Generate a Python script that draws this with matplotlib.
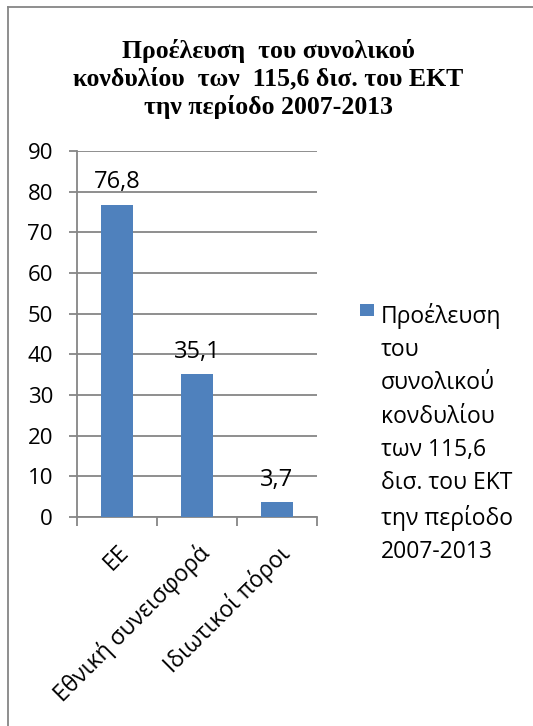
import matplotlib
matplotlib.use("Agg")
import matplotlib.pyplot as plt
from matplotlib.patches import Rectangle
from matplotlib.legend_handler import HandlerPatch
from matplotlib.lines import Line2D

categories = ["ΕΕ", "Εθνική συνεισφορά", "Ιδιωτικοί πόροι"]
values = [76.8, 35.1, 3.7]
value_labels = ["76,8", "35,1", "3,7"]
series_name = "Προέλευση\nτου\nσυνολικού\nκονδυλίου\nτων 115,6\nδισ. του ΕΚΤ\nτην περίοδο\n2007-2013"
title = "Προέλευση  του συνολικού\nκονδυλίου  των  115,6 δισ. του ΕΚΤ\nτην περίοδο 2007-2013"
yticks = [0, 10, 20, 30, 40, 50, 60, 70, 80, 90]

BAR = "#4F81BD"
GRID = "#868686"
SANS = ["Open Sans", "DejaVu Sans"]

fig = plt.figure(figsize=(5.33, 7.26), dpi=100)
ax = fig.add_axes([77/533, 1-517/726, 240/533, 366/726])

x = list(range(len(categories)))
bars = ax.bar(x, values, width=0.39, color=BAR, zorder=3, label=series_name)
ax.set_xlim(-0.5, len(categories) - 0.5)
ax.set_ylim(0, 90)
ax.set_yticks(yticks)
ax.set_yticklabels([str(v) for v in yticks], family=SANS, fontsize=16)
ax.yaxis.grid(True, color=GRID, lw=1.3, zorder=0)
ax.tick_params(axis="y", length=5.8, width=1.3, color=GRID, pad=11.5)

# category ticks at boundaries, labels at centres
ax.set_xticks([i - 0.5 for i in range(len(categories) + 1)])
ax.set_xticklabels([])
ax.set_xticks(x, minor=True)
ax.set_xticklabels(categories, minor=True, rotation=45, ha="right",
                   rotation_mode="anchor", family=SANS, fontsize=16.5)
ax.tick_params(axis="x", which="major", length=6.5, width=1.3, color=GRID)
ax.tick_params(axis="x", which="minor", length=0, pad=17)

for s in ["top", "right"]:
    ax.spines[s].set_visible(False)
for s in ["left", "bottom"]:
    ax.spines[s].set_color(GRID)
    ax.spines[s].set_linewidth(1.3)

ax.bar_label(bars, labels=value_labels, padding=7.5, family=SANS, fontsize=17)

fig.text(0.503, 1-79/726, title, ha="center", va="center", family="Liberation Serif",
         fontweight="bold", fontsize=18.5, linespacing=1.25)


class TopSquare(HandlerPatch):
    def create_artists(self, legend, orig_handle, xdescent, ydescent, width, height, fontsize, trans):
        # square aligned with the first text line
        r = Rectangle((-xdescent, 91.0), width, 8.6,
                      facecolor=BAR, edgecolor="none", transform=trans)
        return [r]


leg = fig.legend(handles=[bars.patches[0]], labels=[series_name],
                 handler_map={bars.patches[0]: TopSquare()},
                 loc="upper left", bbox_to_anchor=(360/533, 1-303/726),
                 frameon=False, prop={"family": SANS, "size": 16.5},
                 handlelength=0.61, handleheight=0.7, handletextpad=0.3,
                 borderpad=0, borderaxespad=0)
for t in leg.get_texts():
    t.set_linespacing(1.51)

# outer chart border (left and top visible in reference)
fig.add_artist(Line2D([8/533, 8/533], [0, 1-7/726], color=GRID, lw=1.3, transform=fig.transFigure))
fig.add_artist(Line2D([8/533, 1], [1-7/726, 1-7/726], color=GRID, lw=1.3, transform=fig.transFigure))

fig.savefig("out.png", dpi=100)
